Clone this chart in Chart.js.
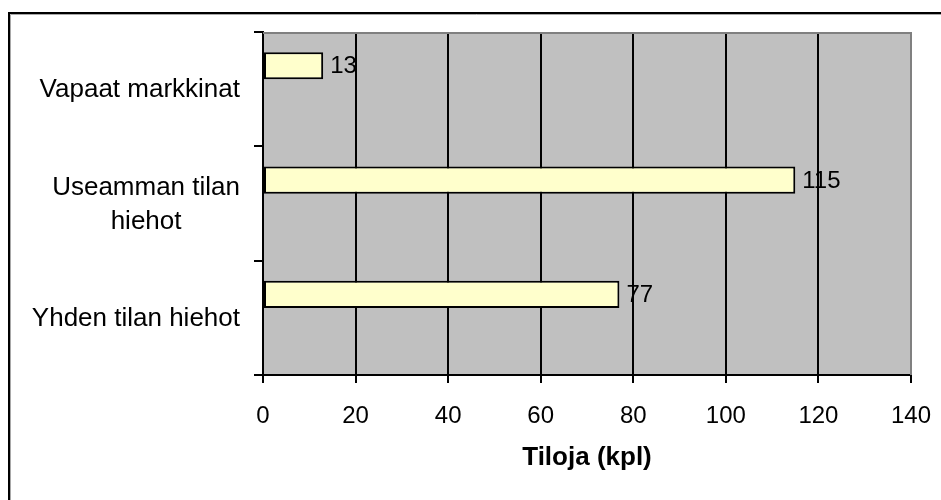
<!DOCTYPE html>
<html>
<head>
<meta charset="utf-8">
<script src="https://cdn.jsdelivr.net/npm/chart.js@4"></script>
<style>
html,body{margin:0;padding:0;background:#fff}
#wrap{width:941px;height:500px}
</style>
</head>
<body>
<div id="wrap"><canvas id="c" width="941" height="500"></canvas></div>
<script>
// ---- data ----
const categories = [["Vapaat markkinat"], ["Useamman tilan", "hiehot"], ["Yhden tilan hiehot"]];
const farmCounts = [13, 115, 77];
const emptySeries = [null, null, null];
const xTickValues = [0, 20, 40, 60, 80, 100, 120, 140];
const axisTitle = "Tiloja (kpl)";

const FONT = '"Liberation Sans", Arial, Helvetica, sans-serif';

const decor = {
  id: 'decor',
  beforeDraw(chart) {
    const {ctx, chartArea: a} = chart;
    ctx.save();
    ctx.fillStyle = '#C0C0C0';
    ctx.fillRect(a.left, a.top, a.right - a.left, a.bottom - a.top);
    ctx.restore();
  },
  afterDatasetsDraw(chart) {
    const ctx = chart.ctx;
    const meta = chart.getDatasetMeta(0);
    const data = chart.data.datasets[0].data;
    ctx.save();
    ctx.font = '24px ' + FONT;
    ctx.fillStyle = '#000';
    ctx.textAlign = 'left';
    ctx.textBaseline = 'middle';
    meta.data.forEach((bar, i) => {
      if (data[i] == null) return;
      ctx.fillText(String(data[i]), bar.x + 7, bar.y + 1);
    });
    ctx.restore();
  },
  afterDraw(chart) {
    const {ctx, chartArea: a} = chart;
    const ys = chart.scales.y;
    ctx.save();
    // plot area top/right border (gray)
    ctx.strokeStyle = '#808080';
    ctx.lineWidth = 2;
    ctx.beginPath();
    ctx.moveTo(a.left, a.top + 1);
    ctx.lineTo(a.right, a.top + 1);
    ctx.moveTo(a.right, a.top);
    ctx.lineTo(a.right, a.bottom);
    ctx.stroke();
    // category labels: right-aligned block, lines centred within block
    ctx.font = '26px ' + FONT;
    ctx.fillStyle = '#000';
    ctx.textAlign = 'center';
    ctx.textBaseline = 'middle';
    const rightEdge = 240, lineGap = 34;
    chart.data.labels.forEach((lab, i) => {
      const lines = Array.isArray(lab) ? lab : [lab];
      const w = Math.max(...lines.map(l => ctx.measureText(l).width));
      const cx = rightEdge - w / 2;
      const cy = ys.getPixelForValue(i);
      lines.forEach((l, j) => {
        ctx.fillText(l, cx, cy + 1 + (j - (lines.length - 1) / 2) * lineGap);
      });
    });
    // outer frame (left and top visible)
    ctx.strokeStyle = '#000';
    ctx.lineWidth = 2;
    ctx.beginPath();
    ctx.moveTo(9, 600);
    ctx.lineTo(9, 13);
    ctx.lineTo(1000, 13);
    ctx.stroke();
    ctx.strokeStyle = '#A8A8A8';
    ctx.lineWidth = 1;
    ctx.beginPath();
    ctx.moveTo(10.5, 600);
    ctx.lineTo(10.5, 14.5);
    ctx.lineTo(1000, 14.5);
    ctx.stroke();
    ctx.restore();
  }
};

new Chart(document.getElementById('c'), {
  type: 'bar',
  data: {
    labels: categories,
    datasets: [
      {
        label: 'Tiloja',
        data: farmCounts,
        backgroundColor: '#FFFFCC',
        borderColor: '#000',
        borderWidth: 2,
        borderSkipped: false,
        categoryPercentage: 0.82,
        barPercentage: 0.58
      },
      {
        label: '',
        data: emptySeries,
        backgroundColor: '#FFFFCC',
        borderColor: '#000',
        borderWidth: 0,
        categoryPercentage: 0.82,
        barPercentage: 0.58
      }
    ]
  },
  options: {
    indexAxis: 'y',
    responsive: false,
    animation: false,
    devicePixelRatio: 1,
    layout: {padding: {top: 32, right: 30, left: 0, bottom: 0}},
    plugins: {legend: {display: false}, tooltip: {enabled: false}},
    scales: {
      x: {
        type: 'linear',
        min: xTickValues[0],
        max: xTickValues[xTickValues.length - 1],
        afterBuildTicks: s => { s.ticks = xTickValues.map(v => ({value: v})); },
        ticks: {color: '#000', font: {family: FONT, size: 24}, padding: 19, maxRotation: 0, autoSkip: false},
        grid: {color: '#000', lineWidth: 2, tickLength: 8, drawTicks: true},
        border: {display: true, color: '#000', width: 2},
        title: {display: true, text: axisTitle, color: '#000',
                font: {family: FONT, size: 26, weight: 'bold'}, padding: {top: 0, bottom: 27}},
        afterFit: s => { s.height = 125; s.paddingRight = 0; s.paddingLeft = 0; }
      },
      y: {
        type: 'category',
        offset: true,
        ticks: {display: false},
        grid: {display: true, drawOnChartArea: false, drawTicks: true, tickLength: 9,
               color: '#000', lineWidth: 2, offset: true},
        border: {display: true, color: '#000', width: 2},
        afterFit: s => { s.width = 263; s.paddingTop = 0; s.paddingBottom = 0; }
      }
    }
  },
  plugins: [decor]
});
</script>
</body>
</html>
